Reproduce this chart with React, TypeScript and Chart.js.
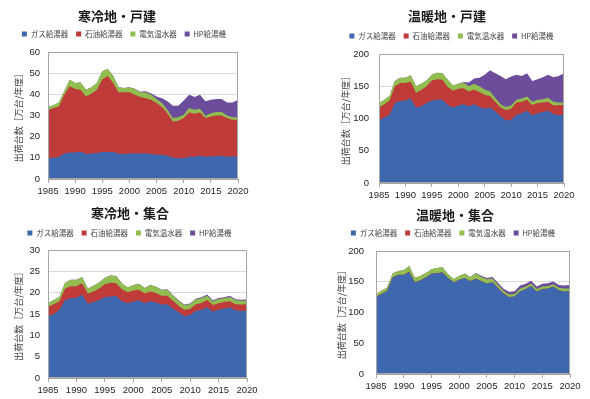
import React, { useEffect, useRef } from "react";
import { Chart, registerables } from "chart.js";

Chart.register(...registerables);

// ---------- data ----------
const years = [
  1985, 1986, 1987, 1988, 1989, 1990, 1991, 1992, 1993, 1994, 1995, 1996,
  1997, 1998, 1999, 2000, 2001, 2002, 2003, 2004, 2005, 2006, 2007, 2008,
  2009, 2010, 2011, 2012, 2013, 2014, 2015, 2016, 2017, 2018, 2019, 2020,
];

const seriesNames = ["ガス給湯器", "石油給湯器", "電気温水器", "HP給湯機"];
const seriesColors = ["#3E67AE", "#BF3B3A", "#92BD4F", "#6C4D9C"];
const yAxisTitle = "出荷台数［万台/年度］";

// 寒冷地・戸建
const coldHouseGas = [9.8, 10, 10.5, 12, 12.5, 12.5, 13, 11.8, 12, 12.3, 12.8, 12.8, 12.8, 12, 11.8, 12, 12, 12, 12, 11.8, 11.5, 11.5, 11, 10.2, 9.8, 9.8, 10.5, 10.5, 11, 10.5, 10.8, 10.8, 11, 10.5, 10.8, 10.5];
const coldHouseOil = [22.8, 23.5, 23.8, 27.8, 31.3, 30, 29.2, 27.2, 28.3, 29.9, 34.2, 36, 32.5, 29, 29.2, 29, 27.8, 26.7, 26.2, 25.6, 24.4, 22.5, 20.1, 17, 17.7, 19, 20.9, 20.3, 20.4, 18.3, 18.7, 19.2, 19, 18.3, 17.2, 17.5];
const coldHouseElec = [1.4, 1.4, 1.9, 1.6, 3.1, 2.8, 3.4, 3.2, 3.1, 3.1, 3.9, 3.2, 3.5, 2.4, 2, 2.4, 2.7, 2.3, 2.7, 2.4, 1.9, 1.9, 1.6, 1.6, 1.7, 1.5, 2.1, 1.9, 1.8, 1.1, 1.6, 1.6, 1.6, 1.2, 1.2, 1.2];
const coldHouseHP = [0, 0, 0, 0, 0, 0, 0, 0, 0, 0, 0, 0, 0, 0, 0, 0, 0.1, 0.2, 0.5, 0.6, 1.2, 2.3, 4, 5.8, 5.4, 6.8, 6.3, 6, 6.6, 6.8, 6.3, 6.2, 6.2, 6.2, 7, 8.2];

// 温暖地・戸建
const warmHouseGas = [97, 102, 106, 124, 127, 128, 131, 117, 119, 124, 128, 129, 129, 121, 117, 120, 122, 119, 122, 118, 115, 117, 111, 104, 97, 98, 106, 108, 112, 105, 108, 110, 112, 107, 105, 106];
const warmHouseOil = [20, 20, 22, 26, 28, 27, 26, 23, 25, 26, 31, 32, 31, 28, 26, 26, 25, 23, 23, 23, 22, 18, 15, 13, 16, 17, 19, 18, 17, 16, 16, 15, 14, 13, 16, 15];
const warmHouseElec = [7, 7, 7, 8, 8, 8, 10, 10, 10, 9, 9, 10, 10, 11, 8, 8, 9, 8, 9, 9, 8, 7, 6, 5, 5, 5, 4, 5, 5, 5, 5, 5, 6, 6, 4, 4];
const warmHouseHP = [0, 0, 0, 0, 0, 0, 0, 0, 0, 0, 0, 0, 0, 0, 0, 0, 0.5, 6, 8, 13, 23, 33, 38, 44, 43, 45, 39, 35, 36, 32, 32, 34, 36, 38, 41, 45];

// 寒冷地・集合
const coldFlatGas = [14.5, 15, 16, 18.3, 18.7, 18.8, 19.5, 17.4, 17.8, 18.3, 19, 19.1, 19.2, 18, 17.5, 17.9, 18.2, 17.5, 18, 17.7, 17.2, 17.3, 16.3, 15.4, 14.5, 14.8, 15.7, 16, 16.6, 15.6, 16, 16.3, 16.6, 15.9, 15.7, 15.8];
const coldFlatOil = [2.2, 2.3, 2, 2.7, 2.8, 2.7, 2.7, 2.4, 2.5, 2.7, 3, 3.2, 3, 2.8, 2.6, 2.6, 2.5, 2.3, 2.3, 2.2, 2.1, 2, 1.8, 1.5, 1.5, 1.4, 1.6, 1.6, 1.7, 1.5, 1.5, 1.5, 1.4, 1.4, 1.5, 1.5];
const coldFlatElec = [0.8, 1, 1, 1.3, 1.5, 1.5, 1.5, 1.2, 1.3, 1.4, 1.5, 1.7, 1.7, 1.4, 1.1, 1.3, 1.4, 1.3, 1.5, 1.5, 1.3, 1.4, 1.2, 1.1, 1.1, 1.1, 1.1, 1.1, 1, 0.9, 1, 0.9, 1, 0.9, 0.9, 0.8];
const coldFlatHP = [0, 0, 0, 0, 0, 0, 0, 0, 0, 0, 0, 0, 0, 0, 0, 0, 0, 0, 0, 0, 0.1, 0.1, 0.1, 0.15, 0.15, 0.15, 0.2, 0.2, 0.25, 0.2, 0.25, 0.25, 0.3, 0.25, 0.25, 0.3];

// 温暖地・集合
const warmFlatGas = [125, 130, 135, 157, 161, 161, 166, 149, 152, 157, 163, 164, 165, 156, 149, 153, 156, 151, 155, 151, 147, 149, 140, 131, 125, 126, 134, 138, 143, 134, 138, 139, 142, 136, 134, 135];
const warmFlatOil = [0.5, 0.5, 0.5, 0.5, 0.5, 0.5, 0.5, 0.4, 0.4, 0.4, 0.4, 0.4, 0.4, 0.3, 0.3, 0.3, 0.3, 0.3, 0.3, 0.3, 0.2, 0.2, 0.2, 0.2, 0.2, 0.2, 0.2, 0.2, 0.2, 0.1, 0.1, 0.1, 0.1, 0.1, 0.1, 0.1];
const warmFlatElec = [4, 5, 5, 6, 6, 7, 9, 7, 7, 7, 7, 8, 8, 6, 5, 6, 7, 6, 8, 7, 7, 6, 5, 4, 4, 4, 5, 4, 4, 4, 4, 4, 4, 4, 5, 4];
const warmFlatHP = [0, 0, 0, 0, 0, 0, 0, 0, 0, 0, 0, 0, 0, 0, 0, 0, 0, 0.5, 1, 1.5, 2, 2.5, 3, 3.5, 4.5, 4.5, 4.5, 4.5, 4.5, 4, 4.5, 4.5, 4.5, 4.5, 5, 5.5];

const panelTitles = ["寒冷地・戸建", "温暖地・戸建", "寒冷地・集合", "温暖地・集合"];
const yMaxes = [60, 200, 30, 200];
const ySteps = [10, 50, 5, 50];

// ---------- layout (positions / sizes only) ----------
type Layout = {
  left: number; top: number; w: number; h: number;
  pl: number; pr: number; pt: number; yWidth: number; xHeight: number;
  spacer: number; titleX: number; titleY: number; tickPad: number; yTitlePad: number;
};

const layouts: Layout[] = [
  { left: 0, top: 0, w: 295, h: 200, pl: 10, pr: 57, pt: 22.25, yWidth: 38, xHeight: 21, spacer: 4.25, titleX: 117, titleY: 16, tickPad: 8, yTitlePad: 3 },
  { left: 295, top: 0, w: 295, h: 200, pl: 44, pr: 26, pt: 24.25, yWidth: 40, xHeight: 17, spacer: 4.25, titleX: 152, titleY: 16, tickPad: 10, yTitlePad: 1 },
  { left: 0, top: 200, w: 295, h: 199, pl: 12, pr: 48, pt: 21.25, yWidth: 36, xHeight: 21, spacer: 3.25, titleX: 130, titleY: 13, tickPad: 8, yTitlePad: 1 },
  { left: 295, top: 200, w: 295, h: 199, pl: 41, pr: 20, pt: 21.25, yWidth: 40, xHeight: 25, spacer: 4.25, titleX: 160, titleY: 15, tickPad: 12, yTitlePad: 0.5 },
];

const panelSeries = [
  [coldHouseGas, coldHouseOil, coldHouseElec, coldHouseHP],
  [warmHouseGas, warmHouseOil, warmHouseElec, warmHouseHP],
  [coldFlatGas, coldFlatOil, coldFlatElec, coldFlatHP],
  [warmFlatGas, warmFlatOil, warmFlatElec, warmFlatHP],
];

const JP = '"Noto Sans CJK JP", "Noto Sans", sans-serif';
const NUM = '"Liberation Sans", Arial, sans-serif';

const decorPlugin = {
  id: "panelDecor",
  afterDatasetsDraw(chart: any) {
    const { ctx, chartArea } = chart;
    const l = Math.round(chartArea.left) + 0.5;
    const t = Math.round(chartArea.top) + 0.5;
    const r = Math.round(chartArea.right) - 0.5;
    const b = Math.round(chartArea.bottom) - 0.5;
    ctx.save();
    ctx.strokeStyle = "#a6a6a6";
    ctx.lineWidth = 1;
    ctx.strokeRect(l, t, r - l, b - t);
    ctx.restore();
  },
  afterDraw(chart: any, _args: any, opts: any) {
    const { ctx } = chart;
    ctx.save();
    ctx.font = `bold 13px ${JP}`;
    ctx.fillStyle = "#1a1a1a";
    ctx.textAlign = "center";
    ctx.textBaseline = "middle";
    ctx.fillText(opts.text, opts.x, opts.y);
    ctx.restore();
  },
};

function Panel({ index }: { index: number }) {
  const ref = useRef<HTMLCanvasElement | null>(null);
  const L = layouts[index];

  useEffect(() => {
    if (!ref.current) return;
    const series = panelSeries[index];
    const chart = new Chart(ref.current, {
      type: "line",
      data: {
        labels: years.map(String),
        datasets: seriesNames.map((name, i) => ({
          label: name,
          data: series[i],
          backgroundColor: seriesColors[i],
          borderColor: "rgba(0,0,0,0)",
          borderWidth: 0,
          fill: "origin",
          pointRadius: 0,
          tension: 0,
        })),
      },
      options: {
        responsive: false,
        animation: false,
        events: [],
        layout: { padding: { left: L.pl, right: L.pr, top: L.pt, bottom: 0 } },
        scales: {
          x: {
            type: "category",
            offset: false,
            grid: {
              display: true,
              drawOnChartArea: false,
              drawTicks: true,
              tickLength: 4,
              color: (c: any) => (c.index % 5 === 0 ? "#a6a6a6" : "rgba(0,0,0,0)"),
            },
            border: { display: true, color: "#a6a6a6" },
            ticks: {
              autoSkip: false,
              maxRotation: 0,
              minRotation: 0,
              padding: 3,
              color: "#262626",
              font: { family: NUM, size: 9.5 },
              callback: (_v: any, i: number) => (years[i] % 5 === 0 ? String(years[i]) : ""),
            },
            afterFit: (s: any) => { s.height = L.xHeight; },
          },
          y: {
            stacked: true,
            min: 0,
            max: yMaxes[index],
            grid: { color: "#d9d9d9", drawTicks: false },
            border: { display: false },
            ticks: {
              stepSize: ySteps[index],
              padding: L.tickPad,
              color: "#262626",
              font: { family: NUM, size: 9.5 },
            },
            title: {
              display: true,
              text: yAxisTitle,
              color: "#404040",
              font: { family: JP, size: 9, lineHeight: 1.2 },
              padding: { top: L.yTitlePad, bottom: 0 },
            },
            afterFit: (s: any) => { s.width = L.yWidth; },
          },
        },
        plugins: {
          legend: {
            display: true,
            position: "top",
            align: "center",
            labels: {
              boxWidth: 5,
              boxHeight: 5,
              padding: 8,
              color: "#404040",
              font: { family: JP, size: 7.5 },
            },
          },
          subtitle: {
            display: true,
            text: "",
            weight: 100,
            font: { size: 1, lineHeight: 1 },
            padding: { top: 0, bottom: L.spacer - 1 },
          },
          title: { display: false },
          tooltip: { enabled: false },
          panelDecor: { text: panelTitles[index], x: L.titleX, y: L.titleY },
        } as any,
      },
      plugins: [decorPlugin as any],
    });
    return () => chart.destroy();
  }, [index]);

  return (
    <div style={{ position: "absolute", left: L.left, top: L.top, width: L.w, height: L.h }}>
      <canvas ref={ref} width={L.w} height={L.h} style={{ display: "block", width: L.w, height: L.h }} />
    </div>
  );
}

export default function App() {
  return (
    <div style={{ position: "fixed", left: 0, top: 0, width: 590, height: 399, background: "#ffffff", overflow: "hidden" }}>
      {[0, 1, 2, 3].map((i) => (
        <Panel key={i} index={i} />
      ))}
    </div>
  );
}
